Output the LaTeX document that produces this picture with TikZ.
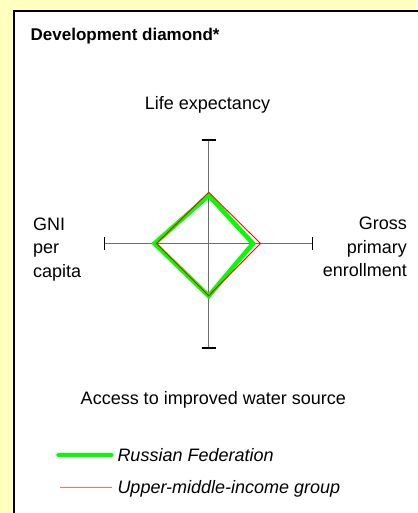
\documentclass[tikz,border=0pt]{standalone}
\usepackage{fontspec}
\setmainfont{Liberation Sans}
\definecolor{bgyellow}{RGB}{255,255,192}
\definecolor{axisgray}{RGB}{110,110,110}
\definecolor{rfgreen}{RGB}{0,255,0}
\definecolor{legred}{RGB}{255,110,110}
\begin{document}
\begin{tikzpicture}[x=1pt,y=-1pt,
  lbl/.style={inner sep=0pt,font=\fontsize{18}{23.5}\selectfont},
  titlelbl/.style={inner sep=0pt,font=\fontsize{17}{20}\selectfont\bfseries},
  legtext/.style={inner sep=0pt,font=\fontsize{18}{22}\selectfont\itshape},
  axisline/.style={draw=axisgray,line width=1.2pt},
  tickline/.style={draw=black,line width=1.4pt},
  rfline/.style={draw=rfgreen,line width=4.5pt,line join=miter},
  grpline/.style={draw=red,line width=0.9pt,line join=miter},
  rflegend/.style={draw=rfgreen,line width=4.5pt,line cap=round},
  grplegend/.style={draw=legred,line width=1.3pt}]
\useasboundingbox (0,0) rectangle (417,513);
\fill[bgyellow] (0,0) rectangle (417,513);
\draw[fill=white,draw=black,line width=2pt] (14,11) rectangle (440,540);

% labels
\node[titlelbl,anchor=base west] (title) at (30.5,41) {Development diamond*};
\node[lbl,anchor=base] (life) at (207.5,109.3) {Life expectancy};
\node[lbl,anchor=base west,align=left] (gni) at (33,277) {GNI\\per\\capita};
\node[lbl,anchor=base east,align=right] (gross) at (407,276.5) {Gross\\primary\\enrollment};
\node[lbl,anchor=base] (water) at (213.3,404) {Access to improved water source};

% axes
\coordinate (c) at (208.7,243.5);
\coordinate (at) at (208.7,140);
\coordinate (ab) at (208.7,348);
\coordinate (al) at (104.7,243.5);
\coordinate (ar) at (312.7,243.5);
\draw[axisline] (at) -- (ab);
\draw[axisline] (al) -- (ar);
\draw[tickline] ([xshift=-7pt]at) -- ([xshift=7pt]at);
\draw[tickline] ([xshift=-7pt]ab) -- ([xshift=7pt]ab);
\draw[tickline] ([yshift=-6.5pt]al) -- ([yshift=6.5pt]al);
\draw[tickline] ([yshift=-6.5pt]ar) -- ([yshift=6.5pt]ar);

% diamonds
\coordinate (gt) at (208.7,195.5);
\coordinate (gr) at (253,243.5);
\coordinate (gb) at (208.7,296);
\coordinate (gl) at (154.5,243.5);
\draw[rfline] (gt) -- (gr) -- (gb) -- (gl) -- cycle;
\coordinate (rt) at (208.7,192.3);
\coordinate (rr) at (260.5,243.5);
\coordinate (rb) at (208.7,295.7);
\coordinate (rl) at (156.5,243.5);
\draw[grpline] (rt) -- (rr) -- (rb) -- (rl) -- cycle;

% legend
\coordinate (l1a) at (58.5,455);
\coordinate (l1b) at (111.5,455);
\draw[rflegend] (l1a) -- (l1b);
\node[legtext,anchor=base west] (rf) at (117.3,461.7) {Russian Federation};
\coordinate (l2a) at (60,487.7);
\coordinate (l2b) at (111.5,487.7);
\draw[grplegend] (l2a) -- (l2b);
\node[legtext,anchor=base west] (grp) at (117.3,493.3) {Upper-middle-income group};
\end{tikzpicture}
\end{document}
